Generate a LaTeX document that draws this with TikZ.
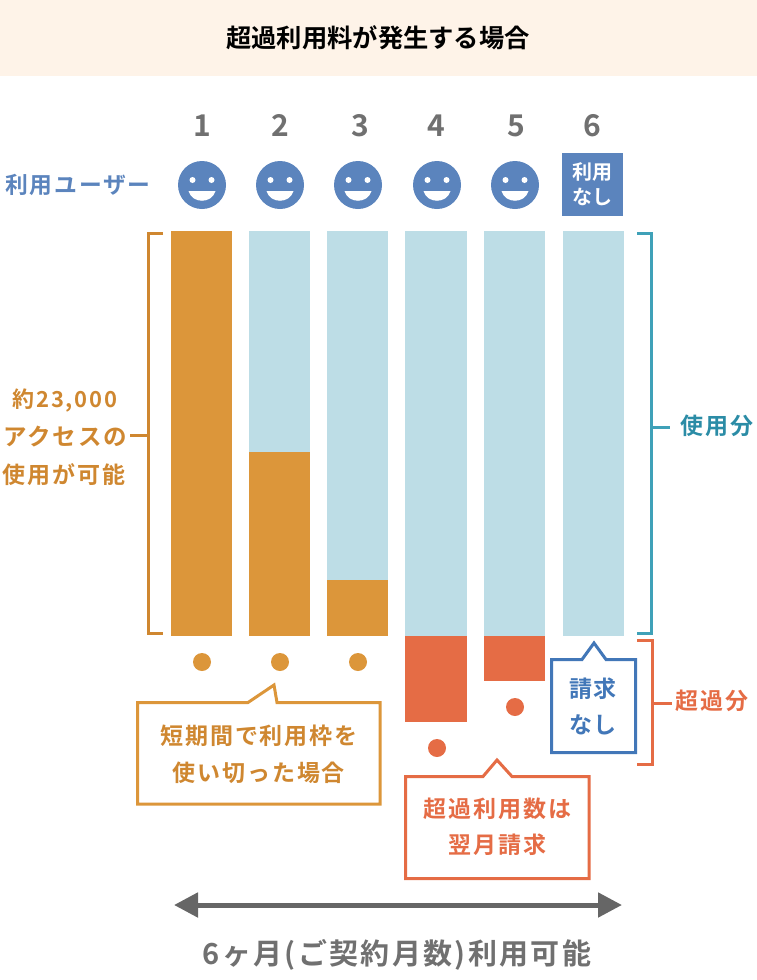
\documentclass[tikz,border=0pt]{standalone}
\usepackage{fontspec}
\usetikzlibrary{arrows.meta}
\setmainfont{Noto Sans CJK JP}[BoldFont=* Bold]
\newfontfamily\jpb{Noto Sans CJK JP Bold}[LetterSpace=8]
\newfontfamily\jpt{Noto Sans CJK JP Bold}
\definecolor{bandc}{HTML}{FEF3E8}
\definecolor{orangec}{HTML}{DC963A}
\definecolor{orangetx}{HTML}{CF8730}
\definecolor{lightb}{HTML}{BDDDE6}
\definecolor{redc}{HTML}{E56C45}
\definecolor{bluec}{HTML}{5B84BD}
\definecolor{blueline}{HTML}{4277B8}
\definecolor{tealc}{HTML}{3FA1B8}
\definecolor{tealtx}{HTML}{2B8CA6}
\definecolor{grayc}{HTML}{707070}
\definecolor{arrowc}{HTML}{666666}
\tikzset{
  txt/.style={inner sep=0pt,outer sep=0pt,align=center,font=\jpb\fontsize{#1}{#1}\selectfont},
  barshape/.style={inner sep=0pt,outer sep=0pt,anchor=north west,minimum width=61pt},
  brk/.style={line width=3pt,line cap=butt,line join=miter},
  call/.style={line width=3pt,fill=white,line join=miter},
  dotmark/.style={circle,inner sep=0pt,minimum size=18pt},
  face/.style={circle,fill=bluec,inner sep=0pt,minimum size=48pt},
}
\begin{document}
\begin{tikzpicture}[x=1pt,y=-1pt]
\useasboundingbox (0,0) rectangle (757,980);
\fill[bandc] (0,0) rectangle (757,76);
\node[txt=25,black,font=\jpt\fontsize{25.3}{25}\selectfont] (title) at (378,38) {超過利用料が発生する場合};
% numbers
\foreach \n/\x in {1/202,2/280,3/360,4/436,5/516,6/592}
  \node[txt=30,anchor=base,grayc,font=\jpt\fontsize{30}{30}\selectfont] (num\n) at (\x,136) {\n};
\node[txt=22.8,bluec] (users) at (78,185) {利用ユーザー};
% faces
\foreach \n/\x in {1/202,2/280,3/358,4/437,5/515}{
  \node[face] (face\n) at (\x,185) {};
  \fill[white] (\x-9.5,180) circle (3);
  \fill[white] (\x+9.5,180) circle (3);
  \fill[white] (\x-13.5,191) -- (\x+13.5,191) .. controls (\x+10,204) and (\x-10,204) .. cycle;
}
\node[fill=bluec,inner sep=0pt,minimum width=61pt,minimum height=63pt,anchor=north west] (none) at (562,153) {};
\node[txt=20,white,font=\jpt\fontsize{20}{25}\selectfont,align=center] (nonetx) at (592.5,184.5) {利用\\なし};
% bars
\foreach \n/\x/\w in {2/249/61,3/327/61,4/405/62,5/484/61,6/563/61}
  \node[barshape,fill=lightb,minimum width=\w pt,minimum height=405pt] (bar\n) at (\x,231) {};
\node[barshape,fill=orangec,minimum height=405pt] (bar1) at (171,231) {};
\node[barshape,fill=orangec,minimum height=184pt] (used2) at (249,452) {};
\node[barshape,fill=orangec,minimum height=56pt] (used3) at (327,580) {};
\node[barshape,fill=redc,minimum width=62pt,minimum height=86pt] (over4) at (405,636) {};
\node[barshape,fill=redc,minimum height=45pt] (over5) at (484,636) {};
% dots
\foreach \n/\x in {1/202,2/280,3/358}
  \node[dotmark,fill=orangec] (dot\n) at (\x,662) {};
\node[dotmark,fill=redc] (dot4) at (437,748) {};
\node[dotmark,fill=redc] (dot5) at (515,707) {};
% brackets
\draw[brk,orangetx] (163,233) -- (148,233) -- (148,633.5) -- (163,633.5);
\coordinate (lbmid) at (148,435);
\coordinate (lbend) at (130,435);
\draw[brk,orangetx] (lbmid) -- (lbend);
\draw[brk,tealc] (637,233) -- (651,233) -- (651,633.5) -- (637,633.5);
\coordinate (tbmid) at (651,427);
\coordinate (tbend) at (670,427);
\draw[brk,tealc] (tbmid) -- (tbend);
\draw[brk,redc] (637,640.5) -- (652,640.5) -- (652,764.5) -- (637,764.5);
\coordinate (rbmid) at (652,703);
\coordinate (rbend) at (672,703);
\draw[brk,redc] (rbmid) -- (rbend);
% side labels
\node[txt=22,orangetx] (l1) at (65,400) {約23,000};
\node[txt=23.5,orangetx] (l2) at (65,437) {アクセスの};
\node[txt=23,orangetx] (l3) at (64,475) {使用が可能};
\node[txt=23,tealtx] (usedl) at (717,426) {使用分};
\node[txt=23,redc] (overl) at (712,701) {超過分};
% callouts
\draw[call,draw=orangec] (137.5,702.5) -- (248,702.5) -- (274,685) -- (277,702.5) -- (380.2,702.5) -- (380.2,804.2) -- (137.5,804.2) -- cycle;
\node[txt=23,text=orangetx,font=\jpb\fontsize{23}{37}\selectfont] (c1) at (259,754) {短期間で利用枠を\\使い切った場合};
\draw[call,draw=redc] (405.5,776.5) -- (483,776.5) -- (497,760) -- (512,776.5) -- (589.2,776.5) -- (589.2,878.5) -- (405.5,878.5) -- cycle;
\node[txt=23,text=redc,font=\jpb\fontsize{23}{36}\selectfont] (c2) at (497.5,827) {超過利用数は\\翌月請求};
\draw[call,draw=blueline] (551.5,659.5) -- (582,659.5) -- (594,643) -- (606,659.5) -- (635.5,659.5) -- (635.5,752.5) -- (551.5,752.5) -- cycle;
\node[txt=23,text=blueline,font=\jpb\fontsize{23}{36}\selectfont] (c3) at (593,706) {請求\\なし};
% arrow
\coordinate (al) at (174,905);
\coordinate (ar) at (622,905);
\draw[arrowc,line width=5pt,{Triangle[length=24pt,width=24pt]}-{Triangle[length=24pt,width=24pt]}] (al) -- (ar);
\node[txt=29,grayc] (period) at (397,955) {6ヶ月(ご契約月数)利用可能};
\end{tikzpicture}
\end{document}
